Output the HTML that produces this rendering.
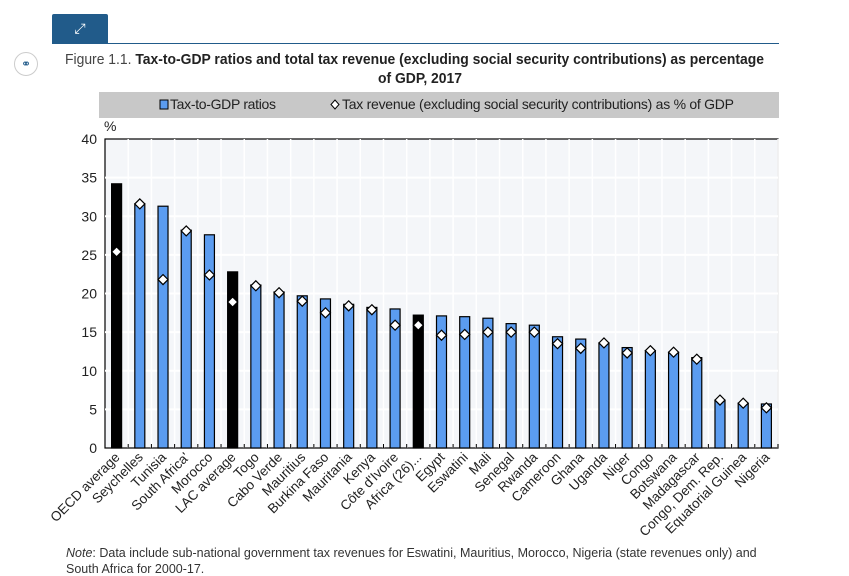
<!DOCTYPE html>
<html><head><meta charset="utf-8"><style>
body{margin:0;width:849px;height:567px;background:#fff;font-family:"Liberation Sans",sans-serif;overflow:hidden;position:relative}
</style></head><body>
<div style="position:absolute;left:52px;top:14px;width:56px;height:29px;background:#215b8a;border-radius:2px 2px 0 0;color:#fff;font-size:14px;text-align:center;line-height:29px">&#x2922;</div>
<div style="position:absolute;left:52px;top:43px;width:727px;height:1px;background:#215b8a"></div>
<div style="position:absolute;left:14px;top:52px;width:22px;height:22px;border:1px solid #ccc;border-radius:50%;color:#215b8a;font-size:12px;text-align:center;line-height:22px">&#x26AD;</div>
<svg width="849" height="567" style="position:absolute;left:0;top:0" id="chart">
<text x="65" y="64" font-size="15" fill="#222" textLength="699" lengthAdjust="spacingAndGlyphs"><tspan fill="#444">Figure 1.1. </tspan><tspan font-weight="bold">Tax-to-GDP ratios and total tax revenue (excluding social security contributions) as percentage</tspan></text>
<text x="378" y="83" font-size="15" font-weight="bold" fill="#222" textLength="84" lengthAdjust="spacingAndGlyphs">of GDP, 2017</text>
<rect x="99" y="92" width="680" height="26" fill="#c8c8c8"/>
<rect x="160" y="100" width="8" height="9" fill="#5b9cf0" stroke="#000"/>
<text x="170" y="109" font-size="14" fill="#222" textLength="106">Tax-to-GDP ratios</text>
<path d="M335 100 L339 104.5 L335 109 L331 104.5Z" fill="#fff" stroke="#000"/>
<text x="342" y="109" font-size="14" fill="#222" textLength="392">Tax revenue (excluding social security contributions) as % of GDP</text>
<text x="104" y="131" font-size="14" fill="#222">%</text>
<rect x="105" y="139" width="673" height="309" fill="#f4f6f9" stroke="#000" stroke-width="1.2"/>
<g id="grid"></g><g id="bars"></g><g id="labels"></g>
</svg>
<div style="position:absolute;left:66px;top:546px;font-size:12.5px;color:#333;white-space:nowrap"><i>Note</i>: Data include sub-national government tax revenues for Eswatini, Mauritius, Morocco, Nigeria (state revenues only) and</div>
<div style="position:absolute;left:66px;top:562px;font-size:12.5px;color:#333;white-space:nowrap">South Africa for 2000-17.</div>
<script>
const categories=["OECD average","Seychelles","Tunisia","South Africa'","Morocco","LAC average","Togo","Cabo Verde","Mauritius","Burkina Faso","Mauritania","Kenya","Côte d'Ivoire","Africa (26)...","Egypt","Eswatini","Mali","Senegal","Rwanda","Cameroon","Ghana","Uganda","Niger","Congo","Botswana","Madagascar","Congo, Dem. Rep.","Equatorial Guinea","Nigeria"];
const taxToGdp=[34.2,31.6,31.3,28.2,27.6,22.8,21.1,20.2,19.7,19.3,18.6,18.2,18.0,17.2,17.1,17.0,16.8,16.1,15.9,14.4,14.1,13.6,13.0,12.6,12.4,11.7,6.2,5.8,5.7];
const taxExclSsc=[25.4,31.6,21.8,28.1,22.4,18.9,21.0,20.1,19.0,17.5,18.4,17.9,15.9,15.9,14.6,14.7,15.0,15.0,15.0,13.5,12.9,13.6,12.3,12.6,12.4,11.5,6.2,5.8,5.2];
const aggregates=["OECD average","LAC average","Africa (26)..."];
const yTicks=[0,5,10,15,20,25,30,35,40];
const NS="http://www.w3.org/2000/svg";
const X0=105,X1=778,Y0=448,Y1=139,yMax=40;
const step=(X1-X0)/categories.length;
const xc=i=>X0+step*(i+0.5);
const y=v=>Y0-(v/yMax)*(Y0-Y1);
function mk(t,a,p){const e=document.createElementNS(NS,t);for(const k in a)e.setAttribute(k,a[k]);p.appendChild(e);return e;}
const grid=document.getElementById('grid'),bars=document.getElementById('bars'),labels=document.getElementById('labels');
yTicks.forEach(v=>{
 if(v>0&&v<yMax){const l=mk('line',{x1:X0,x2:X1,y1:y(v),y2:y(v),stroke:'#fff','stroke-width':2},grid);
 
 }
 const t=mk('text',{x:X0-8,y:y(v)+5,'text-anchor':'end','font-size':14,fill:'#222'},labels);t.textContent=v;
 
 
});
categories.forEach((c,i)=>{
 const vl=mk('line',{x1:X0+step*(i+1),x2:X0+step*(i+1),y1:Y1,y2:Y0,stroke:'#fff','stroke-width':1.5},grid);
 
 
 const tk=mk('line',{x1:X0+step*(i+1),x2:X0+step*(i+1),y1:Y0,y2:Y0-4,stroke:'#000'},grid);
 
 
 const agg=aggregates.includes(c);
 const b=mk('rect',{x:xc(i)-5,y:y(taxToGdp[i]),width:10,height:Y0-y(taxToGdp[i]),fill:agg?'#000':'#5b9cf0',stroke:'#000','stroke-width':1.2},bars);
 
 
 const cx=xc(i),cy=y(taxExclSsc[i]);
 const d=mk('path',{d:`M${cx} ${cy-5} L${cx+5} ${cy} L${cx} ${cy+5} L${cx-5} ${cy}Z`,fill:'#fff',stroke:'#000','stroke-width':1.2},bars);
 
 
 const t=mk('text',{x:cx+4,y:Y0+10,'text-anchor':'end','font-size':13.5,fill:'#222',transform:`rotate(-45 ${cx+4} ${Y0+10})`},labels);
 t.textContent=c;
 
 
});
</script>
</body></html>
